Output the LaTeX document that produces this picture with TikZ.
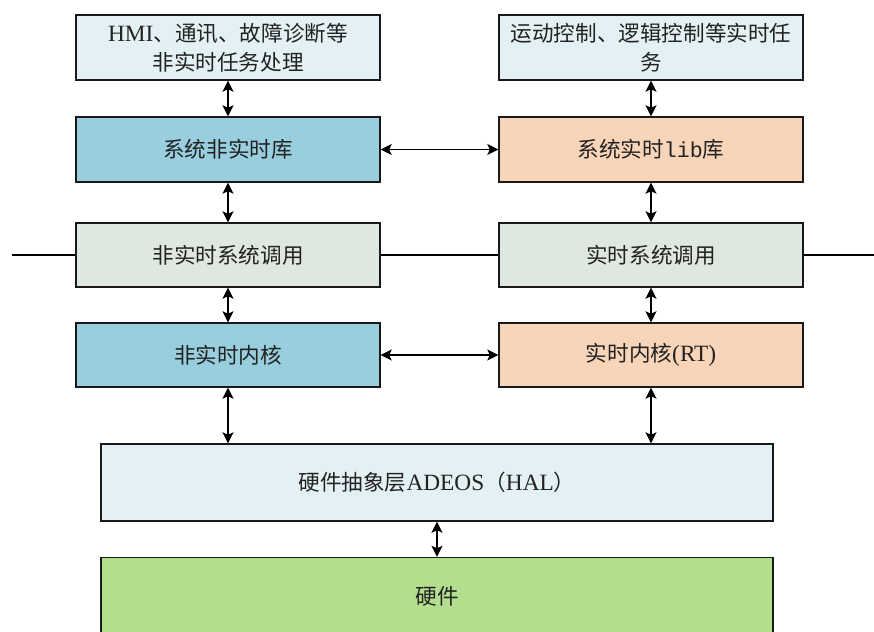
\documentclass[tikz,border=0pt]{standalone}
\usepackage{fontspec}
\setmainfont{Liberation Serif}
\newfontfamily\cjk{Noto Sans CJK SC}
\newfontfamily\lat[Scale=1.08]{Liberation Serif}
\newfontfamily\mono{Liberation Mono}
\usetikzlibrary{arrows.meta}
\definecolor{lightbox}{HTML}{E3F1F4}
\definecolor{bluebox}{HTML}{98CEDD}
\definecolor{peachbox}{HTML}{F8D4B8}
\definecolor{graybox}{HTML}{DEE7E0}
\definecolor{greenbox}{HTML}{B3DE8E}
\definecolor{txt}{HTML}{222222}
\tikzset{
  layer/.style={draw=black!90, line width=1.4pt, minimum width=304pt, minimum height=64pt,
    inner sep=0pt, align=center, text=txt, font=\fontsize{21.6}{29}\selectfont\cjk},
  wide/.style={layer, minimum width=672pt},
  link/.style={line width=1.7pt, {Stealth[length=11pt,width=11pt,inset=2.5pt]}-{Stealth[length=11pt,width=11pt,inset=2.5pt]}},
  longlink/.style={link, line width=1.3pt},
  bus/.style={line width=1.3pt}
}
\begin{document}
\begin{tikzpicture}[x=1pt,y=-1pt]
\useasboundingbox (0,0) rectangle (874,631);
% top row
\node[layer, fill=lightbox, minimum height=65pt] (tl) at (228,47.5) {{\lat HMI}、通讯、故障诊断等\\非实时任务处理};
\node[layer, fill=lightbox, minimum height=65pt] (tr) at (651,47.5) {运动控制、逻辑控制等实时任\\务};
% libraries
\node[layer, fill=bluebox, minimum height=65pt] (l2) at (228,149.5) {系统非实时库};
\node[layer, fill=peachbox, minimum height=65pt] (r2) at (651,149.5) {系统实时{\mono lib}库};
% system calls
\node[layer, fill=graybox] (l3) at (228,255) {非实时系统调用};
\node[layer, fill=graybox] (r3) at (651,255) {实时系统调用};
% kernels
\node[layer, fill=bluebox] (l4) at (228,355) {非实时内核};
\node[layer, fill=peachbox] (r4) at (651,355) {实时内核{\lat (RT)}};
% HAL and hardware
\node[wide, fill=lightbox, minimum height=77pt] (hal) at (437,482.5) {硬件抽象层{\lat ADEOS}（{\lat HAL}）};
\node[wide, fill=greenbox, minimum height=77pt] (hw) at (437,596) {硬件};
% bus line through system calls
\coordinate (busL) at (12,255);
\coordinate (busR) at (874,255);
\draw[bus] (busL) -- (l3.west);
\draw[bus] (l3.east) -- (r3.west);
\draw[bus] (r3.east) -- (busR);
% vertical links
\draw[link] (tl.south) -- (l2.north);
\draw[link] (tr.south) -- (r2.north);
\draw[link] (l2.south) -- (l3.north);
\draw[link] (r2.south) -- (r3.north);
\draw[link] (l3.south) -- (l4.north);
\draw[link] (r3.south) -- (r4.north);
\draw[longlink] (l4.south) -- (l4.south |- hal.north);
\draw[longlink] (r4.south) -- (r4.south |- hal.north);
\draw[link] (hal.south) -- (hw.north);
% horizontal links
\draw[longlink] (l2.east) -- (r2.west);
\draw[longlink] (l4.east) -- (r4.west);
\end{tikzpicture}
\end{document}
